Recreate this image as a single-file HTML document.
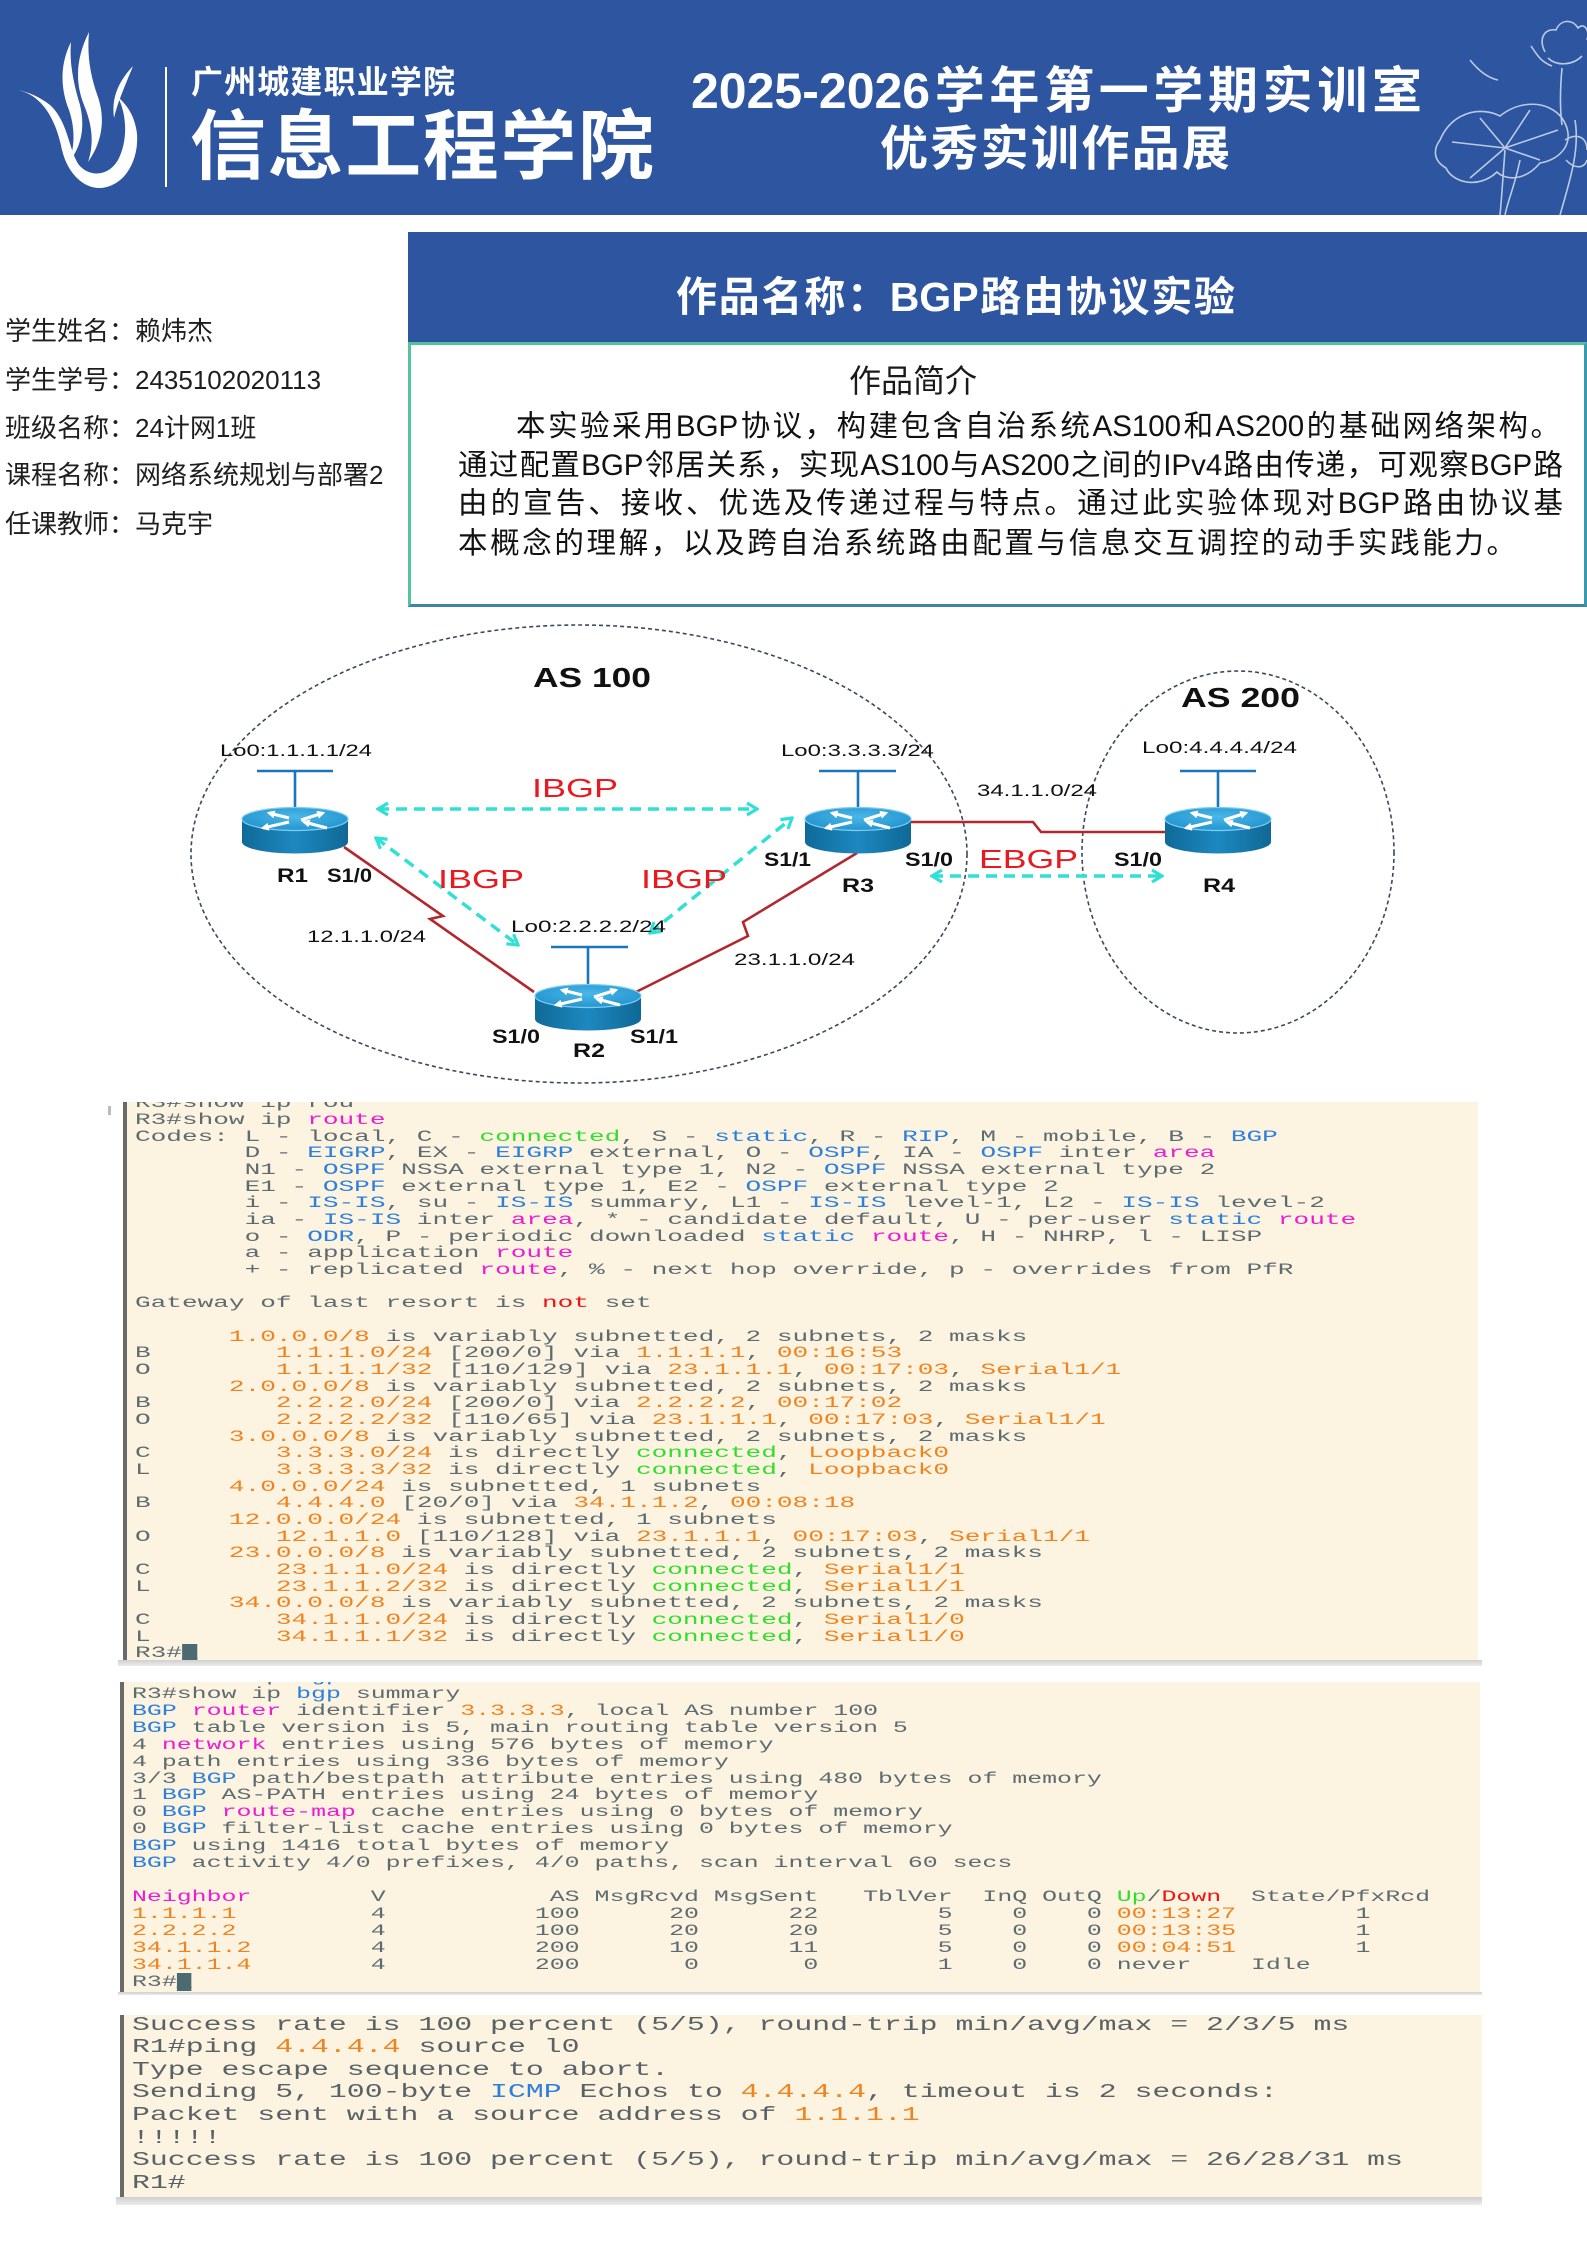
<!DOCTYPE html>
<html><head><meta charset="utf-8">
<style>
*{margin:0;padding:0;box-sizing:border-box}
html,body{width:1587px;height:2244px;background:#fff;overflow:hidden}
body{position:relative;font-family:"Liberation Sans","Noto Sans CJK SC",sans-serif;color:#1a1a1a}
.abs{position:absolute}
.j{position:absolute;line-height:1;text-align:justify;text-align-last:justify}
.info{position:absolute;left:5px;font-size:26px;line-height:26px;color:#1e1e1e;white-space:nowrap}
.term{position:absolute;background:#fcf4e1;overflow:hidden;border-left:4px solid #6a6a6a}
.term pre{position:absolute;margin:0;font-family:"Liberation Mono",monospace;color:#5e6c71;transform-origin:0 0}
.o{color:#f0831f}.g{color:#33dd2e}.b{color:#2d7fdc}.m{color:#ee1bd2}.r{color:#ee1414}
.cur{background:#4d6a70;color:#4d6a70}
.bar{position:absolute;background:linear-gradient(#cfcfcf,#ececec)}
</style></head>
<body>
<!-- header band -->
<div class="abs" style="left:0;top:0;width:1587px;height:215px;background:#2d55a0"></div>
<!-- title box -->
<div class="abs" style="left:408px;top:232px;width:1179px;height:110px;background:#2d55a0"></div>
<div class="abs" style="left:408px;top:342px;width:1179px;height:265px;border-top:3px solid #52c49c;border-left:3px solid #52c49c;border-right:3px solid #3a9aaa;border-bottom:3px solid #3a86aa"></div>

<svg class="abs" style="left:0;top:0" width="1587" height="2244" viewBox="0 0 1587 2244">
<defs>
 <linearGradient id="side" x1="0" x2="1" y1="0" y2="0">
  <stop offset="0" stop-color="#0f6a98"/><stop offset="0.5" stop-color="#1d88c0"/><stop offset="1" stop-color="#0f6896"/>
 </linearGradient>
 <radialGradient id="topg" cx="0.5" cy="0.4" r="0.6">
  <stop offset="0" stop-color="#49b7e8"/><stop offset="1" stop-color="#2394cf"/>
 </radialGradient>
 <marker id="wa" markerUnits="userSpaceOnUse" viewBox="0 0 10 10" refX="7" refY="5" markerWidth="9" markerHeight="8" orient="auto"><path d="M0,0 L10,5 L0,10 Z" fill="#fff"/></marker>
 <marker id="ch" markerUnits="userSpaceOnUse" viewBox="0 0 14 16" refX="12" refY="8" markerWidth="14" markerHeight="16" orient="auto-start-reverse"><path d="M2,2 L12,8 L2,14" fill="none" stroke="#2fe0d4" stroke-width="3.2"/></marker>
 <g id="rt">
  <path d="M-53,0 L-53,23 A53,11.5 0 0 0 53,23 L53,0 Z" fill="url(#side)"/>
  <ellipse cx="0" cy="0" rx="53" ry="11.5" fill="url(#topg)" stroke="#7ccdf0" stroke-width="1.2"/>
  <g stroke="#fff" stroke-width="3.2" fill="none" marker-end="url(#wa)">
   <path d="M-6,-1 L-26,-6"/>
   <path d="M6,1 L28,-6"/>
   <path d="M-6,3 L-32,9"/>
   <path d="M32,9 L9,3"/>
  </g>
 </g>
</defs>

<!-- logo -->
<g fill="#fff">
 <path d="M18,90 C40,95 55,115 62,150 C68,175 85,189 101,188 C125,186 139,160 137,134 C135,116 127,105 118,97 C127,115 128,141 118,160 C108,177 89,177 79,165 C69,151 68,121 50,105 C40,97 28,92 18,90 Z"/>
 <path d="M89,32 C77,56 74,80 84,105 C91,122 95,141 88,162 C103,141 105,118 98,97 C90,75 87,55 89,32 Z"/>
 <path d="M71,42 C59,66 61,90 69,110 C75,128 75,146 69,162 C82,146 85,126 80,105 C74,85 69,63 71,42 Z"/>
 <path d="M133,66 C120,80 111,96 114,118 C118,101 125,86 133,66 Z"/>
</g>
<rect x="165" y="67" width="2" height="120" fill="#fff"/>

<!-- lotus decoration -->
<g fill="none" stroke="#dfe8f6" stroke-width="1.6" opacity="0.8">
 <path d="M1545,52 C1538,38 1545,28 1556,30 C1560,20 1572,18 1578,28 C1584,22 1590,30 1587,40"/>
 <path d="M1548,58 C1556,66 1572,66 1582,56"/>
 <path d="M1531,46 C1537,55 1541,62 1552,66"/>
 <path d="M1562,68 C1560,90 1560,110 1562,125"/>
 <path d="M1440,140 C1452,112 1480,106 1500,116 C1520,100 1548,100 1562,118 C1578,142 1560,160 1540,163 C1524,182 1505,180 1497,172 C1478,190 1452,182 1446,168 C1432,160 1434,148 1440,140 Z"/>
 <path d="M1505,148 L1452,142 M1505,148 L1480,118 M1505,148 L1530,110 M1505,148 L1558,130 M1505,148 L1540,160 M1505,148 L1470,178"/>
 <path d="M1505,150 C1503,175 1502,195 1500,215"/>
 <path d="M1520,160 C1515,185 1508,200 1505,215"/>
 <path d="M1575,120 C1580,150 1570,180 1560,215"/>
 <path d="M1565,140 C1578,132 1587,138 1587,150 M1566,160 C1575,170 1585,168 1587,160"/>
 <path d="M1470,60 C1478,70 1488,78 1498,80"/>
</g>

<!-- AS ellipses -->
<ellipse cx="579" cy="854" rx="388" ry="229" fill="none" stroke="#3a4a5c" stroke-width="1.6" stroke-dasharray="4 3"/>
<ellipse cx="1238" cy="852" rx="156" ry="181" fill="none" stroke="#3a4a5c" stroke-width="1.6" stroke-dasharray="4 3"/>

<!-- serial links -->
<g fill="none" stroke="#b3282d" stroke-width="2.6" stroke-linejoin="miter">
 <path d="M344,847 L443,916 L430,919 L534,992"/>
 <path d="M636,992 L748,936 L743,922 L857,853"/>
 <path d="M911,822 L1033,822 L1041,832 L1166,832"/>
</g>

<!-- antennas -->
<g stroke="#1b75bb" stroke-width="2.6">
 <line x1="257" y1="771" x2="333" y2="771"/><line x1="295" y1="771" x2="295" y2="808"/>
 <line x1="819" y1="771" x2="896" y2="771"/><line x1="858" y1="771" x2="858" y2="808"/>
 <line x1="1180" y1="771" x2="1256" y2="771"/><line x1="1218" y1="771" x2="1218" y2="808"/>
 <line x1="551" y1="947" x2="628" y2="947"/><line x1="588" y1="947" x2="588" y2="985"/>
</g>

<!-- routers -->
<use href="#rt" x="295" y="819"/>
<use href="#rt" x="858" y="819"/>
<use href="#rt" x="1218" y="819"/>
<use href="#rt" x="588" y="996"/>

<!-- BGP sessions -->
<g fill="none" stroke="#2fe0d4" stroke-width="3.5" stroke-dasharray="11 7" marker-start="url(#ch)" marker-end="url(#ch)">
 <path d="M378,809 L757,809"/>
 <path d="M376,838 L518,945"/>
 <path d="M650,933 L792,818"/>
 <path d="M932,876 L1162,876"/>
</g>

<!-- diagram text -->
<g font-family="Liberation Sans, sans-serif" fill="#111">
 <text x="533" y="687" font-size="28" font-weight="bold" textLength="118" lengthAdjust="spacingAndGlyphs">AS 100</text>
 <text x="1181" y="707" font-size="28" font-weight="bold" textLength="119" lengthAdjust="spacingAndGlyphs">AS 200</text>
 <g font-size="16.5">
  <text x="220" y="756" textLength="152" lengthAdjust="spacingAndGlyphs">Lo0:1.1.1.1/24</text>
  <text x="781" y="756" textLength="153" lengthAdjust="spacingAndGlyphs">Lo0:3.3.3.3/24</text>
  <text x="1142" y="753" textLength="155" lengthAdjust="spacingAndGlyphs">Lo0:4.4.4.4/24</text>
  <text x="511" y="932" textLength="155" lengthAdjust="spacingAndGlyphs">Lo0:2.2.2.2/24</text>
  <text x="977" y="796" textLength="120" lengthAdjust="spacingAndGlyphs">34.1.1.0/24</text>
  <text x="307" y="942" textLength="119" lengthAdjust="spacingAndGlyphs">12.1.1.0/24</text>
  <text x="734" y="965" textLength="121" lengthAdjust="spacingAndGlyphs">23.1.1.0/24</text>
 </g>
 <g font-size="25.5" fill="#e8191f">
  <text x="532" y="797" textLength="86" lengthAdjust="spacingAndGlyphs">IBGP</text>
  <text x="438" y="888" textLength="86" lengthAdjust="spacingAndGlyphs">IBGP</text>
  <text x="641" y="888" textLength="86" lengthAdjust="spacingAndGlyphs">IBGP</text>
  <text x="979" y="868" textLength="99" lengthAdjust="spacingAndGlyphs">EBGP</text>
 </g>
 <g font-weight="bold" font-size="19.5">
  <text x="277" y="882" textLength="31" lengthAdjust="spacingAndGlyphs">R1</text>
  <text x="327" y="882" textLength="45" lengthAdjust="spacingAndGlyphs">S1/0</text>
  <text x="842" y="892" textLength="32" lengthAdjust="spacingAndGlyphs">R3</text>
  <text x="764" y="866" textLength="47" lengthAdjust="spacingAndGlyphs">S1/1</text>
  <text x="905" y="866" textLength="48" lengthAdjust="spacingAndGlyphs">S1/0</text>
  <text x="1114" y="866" textLength="48" lengthAdjust="spacingAndGlyphs">S1/0</text>
  <text x="1203" y="892" textLength="32" lengthAdjust="spacingAndGlyphs">R4</text>
  <text x="573" y="1057" textLength="32" lengthAdjust="spacingAndGlyphs">R2</text>
  <text x="492" y="1043" textLength="48" lengthAdjust="spacingAndGlyphs">S1/0</text>
  <text x="630" y="1043" textLength="48" lengthAdjust="spacingAndGlyphs">S1/1</text>
 </g>
</g>
</svg>

<!-- header texts -->
<div class="j" style="left:191px;top:66px;width:264px;font-size:32px;color:#fff;font-weight:bold">广州城建职业学院</div>
<div class="j" style="left:190px;top:110px;width:464px;font-size:76px;color:#fff;font-weight:bold">信息工程学院</div>
<div class="j" style="left:691px;top:66px;width:731px;font-size:50px;color:#fff;font-weight:bold">2025-2026学年第一学期实训室</div>
<div class="j" style="left:880px;top:126px;width:350px;font-size:48px;color:#fff;font-weight:bold">优秀实训作品展</div>
<div class="j" style="left:676px;top:277px;width:559px;font-size:41px;color:#fff;font-weight:bold">作品名称：BGP路由协议实验</div>

<!-- left info -->
<div class="info" style="top:318px">学生姓名：赖炜杰</div>
<div class="info" style="top:367px">学生学号：2435102020113</div>
<div class="info" style="top:415px">班级名称：24计网1班</div>
<div class="info" style="top:462px">课程名称：网络系统规划与部署2</div>
<div class="info" style="top:511px">任课教师：马克宇</div>

<!-- intro -->
<div class="j" style="left:849px;top:365px;width:128px;font-size:32px;color:#1a1a1a">作品简介</div>
<div class="j" style="left:516px;top:412px;width:1044px;font-size:29.5px;color:#111">本实验采用BGP协议，构建包含自治系统AS100和AS200的基础网络架构。</div>
<div class="j" style="left:458px;top:451px;width:1105px;font-size:29.5px;color:#111">通过配置BGP邻居关系，实现AS100与AS200之间的IPv4路由传递，可观察BGP路</div>
<div class="j" style="left:458px;top:489px;width:1105px;font-size:29.5px;color:#111">由的宣告、接收、优选及传递过程与特点。通过此实验体现对BGP路由协议基</div>
<div class="j" style="left:458px;top:529px;width:1058px;font-size:29.5px;color:#111">本概念的理解，以及跨自治系统路由配置与信息交互调控的动手实践能力。</div>

<!-- terminal 1 -->
<div class="abs" style="left:108px;top:1106px;width:3px;height:9px;background:#bbb"></div>
<div class="term" style="left:123px;top:1102px;width:1355px;height:558px">
<pre style="left:8px;top:-6.7px;font-size:15.5px;line-height:16.67px;transform:scaleX(1.683)">R3#show ip rou
R3#show ip <span class="m">route</span>
Codes: L - local, C - <span class="g">connected</span>, S - <span class="b">static</span>, R - <span class="b">RIP</span>, M - mobile, B - <span class="b">BGP</span>
       D - <span class="b">EIGRP</span>, EX - <span class="b">EIGRP</span> external, O - <span class="b">OSPF</span>, IA - <span class="b">OSPF</span> inter <span class="m">area</span>
       N1 - <span class="b">OSPF</span> NSSA external type 1, N2 - <span class="b">OSPF</span> NSSA external type 2
       E1 - <span class="b">OSPF</span> external type 1, E2 - <span class="b">OSPF</span> external type 2
       i - <span class="b">IS-IS</span>, su - <span class="b">IS-IS</span> summary, L1 - <span class="b">IS-IS</span> level-1, L2 - <span class="b">IS-IS</span> level-2
       ia - <span class="b">IS-IS</span> inter <span class="m">area</span>, * - candidate default, U - per-user <span class="b">static</span> <span class="m">route</span>
       o - <span class="b">ODR</span>, P - periodic downloaded <span class="b">static</span> <span class="m">route</span>, H - NHRP, l - LISP
       a - application <span class="m">route</span>
       + - replicated <span class="m">route</span>, % - next hop override, p - overrides from PfR

Gateway of last resort is <span class="r">not</span> set

      <span class="o">1.0.0.0/8</span> is variably subnetted, 2 subnets, 2 masks
B        <span class="o">1.1.1.0/24</span> [200/0] via <span class="o">1.1.1.1</span>, <span class="o">00:16:53</span>
O        <span class="o">1.1.1.1/32</span> [110/129] via <span class="o">23.1.1.1</span>, <span class="o">00:17:03</span>, <span class="o">Serial1/1</span>
      <span class="o">2.0.0.0/8</span> is variably subnetted, 2 subnets, 2 masks
B        <span class="o">2.2.2.0/24</span> [200/0] via <span class="o">2.2.2.2</span>, <span class="o">00:17:02</span>
O        <span class="o">2.2.2.2/32</span> [110/65] via <span class="o">23.1.1.1</span>, <span class="o">00:17:03</span>, <span class="o">Serial1/1</span>
      <span class="o">3.0.0.0/8</span> is variably subnetted, 2 subnets, 2 masks
C        <span class="o">3.3.3.0/24</span> is directly <span class="g">connected</span>, <span class="o">Loopback0</span>
L        <span class="o">3.3.3.3/32</span> is directly <span class="g">connected</span>, <span class="o">Loopback0</span>
      <span class="o">4.0.0.0/24</span> is subnetted, 1 subnets
B        <span class="o">4.4.4.0</span> [20/0] via <span class="o">34.1.1.2</span>, <span class="o">00:08:18</span>
      <span class="o">12.0.0.0/24</span> is subnetted, 1 subnets
O        <span class="o">12.1.1.0</span> [110/128] via <span class="o">23.1.1.1</span>, <span class="o">00:17:03</span>, <span class="o">Serial1/1</span>
      <span class="o">23.0.0.0/8</span> is variably subnetted, 2 subnets, 2 masks
C        <span class="o">23.1.1.0/24</span> is directly <span class="g">connected</span>, <span class="o">Serial1/1</span>
L        <span class="o">23.1.1.2/32</span> is directly <span class="g">connected</span>, <span class="o">Serial1/1</span>
      <span class="o">34.0.0.0/8</span> is variably subnetted, 2 subnets, 2 masks
C        <span class="o">34.1.1.0/24</span> is directly <span class="g">connected</span>, <span class="o">Serial1/0</span>
L        <span class="o">34.1.1.1/32</span> is directly <span class="g">connected</span>, <span class="o">Serial1/0</span>
R3#<span class="cur">_</span></pre>
</div>
<div class="bar" style="left:118px;top:1660px;width:1364px;height:6px"></div>

<!-- terminal 2 -->
<div class="term" style="left:120px;top:1682px;width:1360px;height:310px">
<pre style="left:8px;top:-13.2px;font-size:15.5px;line-height:16.96px;transform:scaleX(1.604)">R3#show ip <span class="b">bgp</span>
R3#show ip <span class="b">bgp</span> summary
<span class="b">BGP</span> <span class="m">router</span> identifier <span class="o">3.3.3.3</span>, local AS number 100
<span class="b">BGP</span> table version is 5, main routing table version 5
4 <span class="m">network</span> entries using 576 bytes of memory
4 path entries using 336 bytes of memory
3/3 <span class="b">BGP</span> path/bestpath attribute entries using 480 bytes of memory
1 <span class="b">BGP</span> AS-PATH entries using 24 bytes of memory
0 <span class="b">BGP</span> <span class="m">route-map</span> cache entries using 0 bytes of memory
0 <span class="b">BGP</span> filter-list cache entries using 0 bytes of memory
<span class="b">BGP</span> using 1416 total bytes of memory
<span class="b">BGP</span> activity 4/0 prefixes, 4/0 paths, scan interval 60 secs

<span class="m">Neighbor</span>        V           AS MsgRcvd MsgSent   TblVer  InQ OutQ <span class="g">Up</span>/<span class="r">Down</span>  State/PfxRcd
<span class="o">1.1.1.1</span>         4          100      20      22        5    0    0 <span class="o">00:13:27</span>        1
<span class="o">2.2.2.2</span>         4          100      20      20        5    0    0 <span class="o">00:13:35</span>        1
<span class="o">34.1.1.2</span>        4          200      10      11        5    0    0 <span class="o">00:04:51</span>        1
<span class="o">34.1.1.4</span>        4          200       0       0        1    0    0 never    Idle
R3#<span class="cur">_</span></pre>
</div>
<div class="bar" style="left:118px;top:1992px;width:1364px;height:3px"></div>

<!-- terminal 3 -->
<div class="term" style="left:120px;top:2015px;width:1362px;height:182px">
<pre style="left:8px;top:-1.4px;font-size:19px;line-height:22.6px;transform:scaleX(1.570);color:#596266">Success rate is 100 percent (5/5), round-trip min/avg/max = 2/3/5 ms
R1#ping <span class="o">4.4.4.4</span> source l0
Type escape sequence to abort.
Sending 5, 100-byte <span class="b">ICMP</span> Echos to <span class="o">4.4.4.4</span>, timeout is 2 seconds:
Packet sent with a source address of <span class="o">1.1.1.1</span>
!!!!!
Success rate is 100 percent (5/5), round-trip min/avg/max = 26/28/31 ms
R1#</pre>
</div>
<div class="bar" style="left:116px;top:2197px;width:1366px;height:8px"></div>
</body></html>
